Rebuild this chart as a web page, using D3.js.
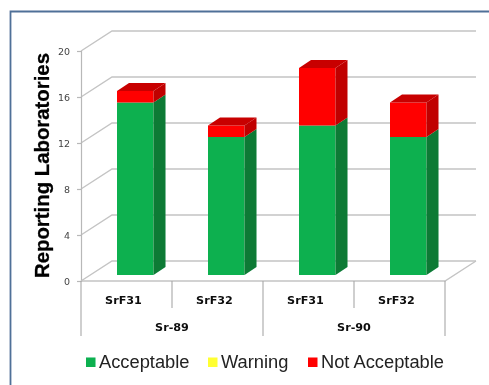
<!DOCTYPE html>
<html><head><meta charset="utf-8">
<script src="https://cdn.jsdelivr.net/npm/d3@7"></script>
<style>html,body{margin:0;padding:0;background:#fff}svg{display:block}</style>
</head><body><svg id="c" width="489" height="385"></svg>
<script>
const categories = ["SrF31","SrF32","SrF31","SrF32"];
const groups = ["Sr-89","Sr-90"];
const acceptable = [15,12,13,12];
const warning = [0,0,0,0];
const notAcceptable = [1,1,5,3];
const yTicks = [0,4,8,12,16,20];
const seriesNames = ["Acceptable","Warning","Not Acceptable"];
const seriesColors = ["#08b050","#ffff33","#ff0000"];
const sideColors = ["#0a7a35","#c0c000","#c00000"];
const topColors = ["#0a7a35","#c0c000","#c80000"];

const svg = d3.select("#c");
const defs = svg.append("defs");
defs.append("filter").attr("id","soft").append("feGaussianBlur").attr("stdDeviation",0.55);
const root = svg.append("g").attr("filter","url(#soft)");

// frame
root.append("path").attr("d","M489,11.5H10.5V385").attr("fill","none").attr("stroke","#4f6f98").attr("stroke-width",1.8);

const L=81,R=445,B=281,T=51,DX=31,DY=-20;
const y = d3.scaleLinear().domain([0,20]).range([B,T]);
const xIdx = d3.scaleBand().domain(d3.range(categories.length)).range([L,R]);
const grid="#c4c4c4";

// gridlines: wall diagonals plus back lines
const g = root.append("g");
yTicks.forEach(t=>{
  const p=d3.path();
  p.moveTo(L,y(t));p.lineTo(L+DX,y(t)+DY);p.lineTo(R+DX,y(t)+DY);
  g.append("path").attr("d",p.toString()).attr("fill","none").attr("stroke",grid).attr("stroke-width",1.4);
});
// axis
const ax = root.append("g").attr("transform",`translate(${L},0)`)
  .call(d3.axisLeft(y).tickValues(yTicks).tickSize(4).tickPadding(7));
ax.selectAll("path,line").attr("stroke","#b8b8b8").attr("stroke-width",1.2);
ax.selectAll("text").attr("font-family","DejaVu Sans").attr("font-size",9.5).attr("fill","#444");

// floor
const fl=d3.path();fl.moveTo(L,B);fl.lineTo(R,B);fl.lineTo(R+DX,B+DY);
root.append("path").attr("d",fl.toString()).attr("fill","none").attr("stroke",grid).attr("stroke-width",1.4);

// category dividers
const bw=xIdx.bandwidth();
d3.range(categories.length+1).forEach(i=>{
  const x=L+i*bw, major=i%2===0;
  root.append("line").attr("x1",x).attr("x2",x).attr("y1",B).attr("y2",major?336:308)
    .attr("stroke","#a8a8a8").attr("stroke-width",1.1);
});
categories.forEach((c,i)=>{
  root.append("text").attr("x",xIdx(i)+bw/2-3).attr("y",304).attr("text-anchor","middle")
    .attr("font-family","DejaVu Sans").attr("font-weight","bold").attr("font-size",11.2).attr("fill","#111").text(c);
});
groups.forEach((c,i)=>{
  root.append("text").attr("x",L+bw*(2*i+1)).attr("y",331).attr("text-anchor","middle")
    .attr("font-family","DejaVu Sans").attr("font-weight","bold").attr("font-size",11.2).attr("fill","#111").text(c);
});

// bars
const barW=36.5, barOff=36, bd=12, bdy=-8, lift=-6;
const stack=d3.stack().keys([0,1,2]).value((d,k)=>d[k])(categories.map((_,i)=>[acceptable[i],warning[i],notAcceptable[i]]));
const poly=(pts,fill)=>root.append("polygon").attr("points",pts.map(p=>p.join(",")).join(" ")).attr("fill",fill);
categories.forEach((_,i)=>{
  const x0=xIdx(i)+barOff,x1=x0+barW;
  stack.forEach((s,k)=>{
    const [a,b]=s[i];
    if(b<=a) return;
    const ya=y(a)+lift,yb=y(b)+lift;
    root.append("rect").attr("x",x0).attr("y",yb).attr("width",barW).attr("height",ya-yb).attr("fill",seriesColors[k]);
    poly([[x1,ya],[x1+bd,ya+bdy],[x1+bd,yb+bdy],[x1,yb]],sideColors[k]);
  });
  const total=acceptable[i]+warning[i]+notAcceptable[i];
  const yt=y(total)+lift;
  poly([[x0,yt],[x0+bd,yt+bdy],[x1+bd,yt+bdy],[x1,yt]],topColors[2]);
});

// y title
root.append("text").attr("transform","translate(48.5,165.5) rotate(-90)").attr("text-anchor","middle")
  .attr("font-family","Liberation Sans").attr("font-weight","bold").attr("font-size",20.5)
  .attr("textLength",225).attr("lengthAdjust","spacingAndGlyphs").attr("fill","#000")
  .attr("stroke","#000").attr("stroke-width",0.3).text("Reporting Laboratories");

// legend
const lx=[86,208,308], tx=[99,221,321];
seriesNames.forEach((n,i)=>{
  root.append("rect").attr("x",lx[i]).attr("y",357.5).attr("width",9.5).attr("height",9.5).attr("fill",seriesColors[i]);
  root.append("text").attr("x",tx[i]).attr("y",367.5).attr("font-family","Liberation Sans").attr("font-size",18.3).attr("fill","#222").text(n);
});
</script></body></html>
